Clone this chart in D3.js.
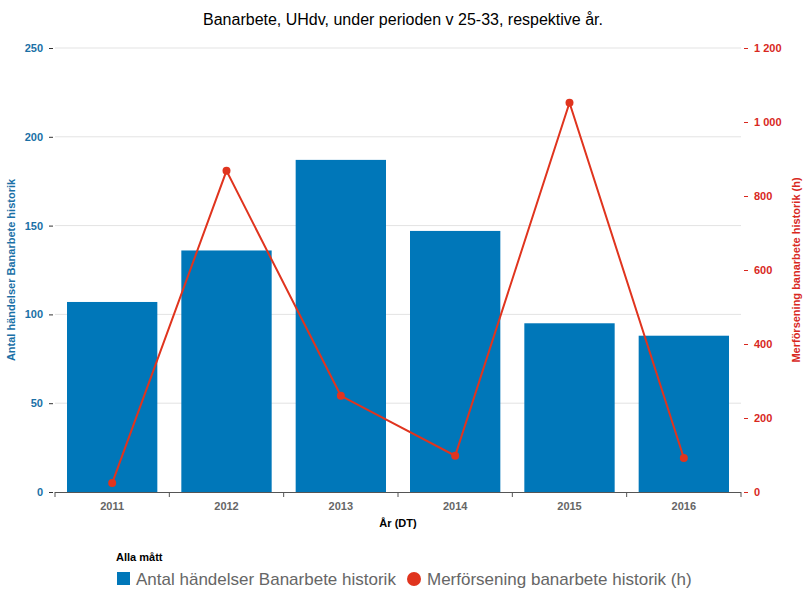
<!DOCTYPE html>
<html><head><meta charset="utf-8">
<script src="https://d3js.org/d3.v7.min.js"></script>
<style>body{margin:0;background:#fff;}svg{display:block;font-family:"Liberation Sans",Arial,sans-serif;}</style>
</head><body>
<svg id="c" width="806" height="603"></svg>
<script>
const years = ["2011","2012","2013","2014","2015","2016"];
const antal = [107, 136, 187, 147, 95, 88];
const merforsening = [24, 868, 260, 98, 1052, 92];
const leftTicks = [0, 50, 100, 150, 200, 250];
const rightTicks = [0, 200, 400, 600, 800, 1000, 1200];

const svg = d3.select("#c");
const L = 55, R = 741, T = 48, B = 492;
const blue = "#0077b9", red = "#e0341e", blueText = "#1a70a6", redText = "#d8281e";

const xb = d3.scaleBand().domain(years).range([L, R]);
const yL = d3.scaleLinear().domain([0, 250]).range([B, T]);
const yR = d3.scaleLinear().domain([0, 1200]).range([B, T]);

// gridlines
svg.append("g").selectAll("line").data(leftTicks.filter(d => d > 0)).join("line")
  .attr("x1", L).attr("x2", R).attr("y1", d => yL(d)).attr("y2", d => yL(d))
  .attr("stroke", "#e3e3e3").attr("stroke-width", 1);

// bars
svg.append("g").selectAll("rect").data(years).join("rect")
  .attr("x", d => xb(d) + 12).attr("width", xb.bandwidth() - 24)
  .attr("y", (d, i) => yL(antal[i])).attr("height", (d, i) => B - yL(antal[i]))
  .attr("fill", blue);

// left axis
const la = svg.append("g").attr("transform", `translate(${L - 2},0)`)
  .call(d3.axisLeft(yL).tickValues(leftTicks).tickSize(4).tickPadding(6));
la.select(".domain").remove();
la.selectAll(".tick line").attr("stroke", "#333");
la.selectAll("text").attr("fill", blueText).attr("font-weight", "bold").attr("font-size", 11)
  .attr("font-family", "Liberation Sans, Arial, sans-serif");

// right axis
const fmt = d => d3.format(",")(d).replace(/,/g, "\u00a0");
const ra = svg.append("g").attr("transform", `translate(${R + 3},0)`)
  .call(d3.axisRight(yR).tickValues(rightTicks).tickFormat(fmt).tickSize(4).tickPadding(6));
ra.select(".domain").remove();
ra.selectAll(".tick line").attr("stroke", redText);
ra.selectAll("text").attr("fill", redText).attr("font-weight", "bold").attr("font-size", 11)
  .attr("font-family", "Liberation Sans, Arial, sans-serif");

// bottom axis
const ba = svg.append("g").attr("transform", `translate(0,${B})`)
  .call(d3.axisBottom(xb).tickSize(0).tickPadding(10));
ba.select(".domain").attr("stroke", "#555").attr("d", `M${L},0.5H${R}`);
ba.selectAll("text").attr("fill", "#666").attr("font-weight", "bold").attr("font-size", 11)
  .attr("font-family", "Liberation Sans, Arial, sans-serif");
svg.append("g").selectAll("line").data(years.concat(["end"])).join("line")
  .attr("x1", (d, i) => L + i * xb.step()).attr("x2", (d, i) => L + i * xb.step())
  .attr("y1", B).attr("y2", B + 5).attr("stroke", "#555");

// line
const cx = d => xb(d) + xb.bandwidth() / 2;
const lineGen = d3.line().x((d, i) => cx(years[i])).y(d => yR(d));
svg.append("path").datum(merforsening).attr("d", lineGen)
  .attr("fill", "none").attr("stroke", red).attr("stroke-width", 2);
svg.append("g").selectAll("circle").data(merforsening).join("circle")
  .attr("cx", (d, i) => cx(years[i])).attr("cy", d => yR(d)).attr("r", 4).attr("fill", red);

// titles
svg.append("text").attr("x", 403).attr("y", 25).attr("text-anchor", "middle")
  .attr("font-size", 16).attr("fill", "#000")
  .text("Banarbete, UHdv, under perioden v 25-33, respektive år.");
svg.append("text").attr("x", (L + R) / 2).attr("y", 527).attr("text-anchor", "middle")
  .attr("font-size", 11).attr("font-weight", "bold").attr("fill", "#000").text("År (DT)");
svg.append("text").attr("transform", `translate(15,${(T + B) / 2}) rotate(-90)`)
  .attr("text-anchor", "middle").attr("font-size", 11).attr("font-weight", "bold")
  .attr("fill", blueText).text("Antal händelser Banarbete historik");
svg.append("text").attr("transform", `translate(800,${(T + B) / 2}) rotate(-90)`)
  .attr("text-anchor", "middle").attr("font-size", 11).attr("font-weight", "bold")
  .attr("fill", redText).text("Merförsening banarbete historik (h)");

// legend
svg.append("text").attr("x", 116).attr("y", 561).attr("font-size", 11).attr("font-weight", "bold")
  .attr("fill", "#000").text("Alla mått");
svg.append("rect").attr("x", 117).attr("y", 572).attr("width", 13).attr("height", 13).attr("fill", blue);
svg.append("text").attr("x", 136).attr("y", 585).attr("font-size", 17).attr("fill", "#666")
  .text("Antal händelser Banarbete historik");
svg.append("circle").attr("cx", 414).attr("cy", 579).attr("r", 7).attr("fill", red);
svg.append("text").attr("x", 427).attr("y", 585).attr("font-size", 17).attr("fill", "#666")
  .text("Merförsening banarbete historik (h)");
</script>
</body></html>
